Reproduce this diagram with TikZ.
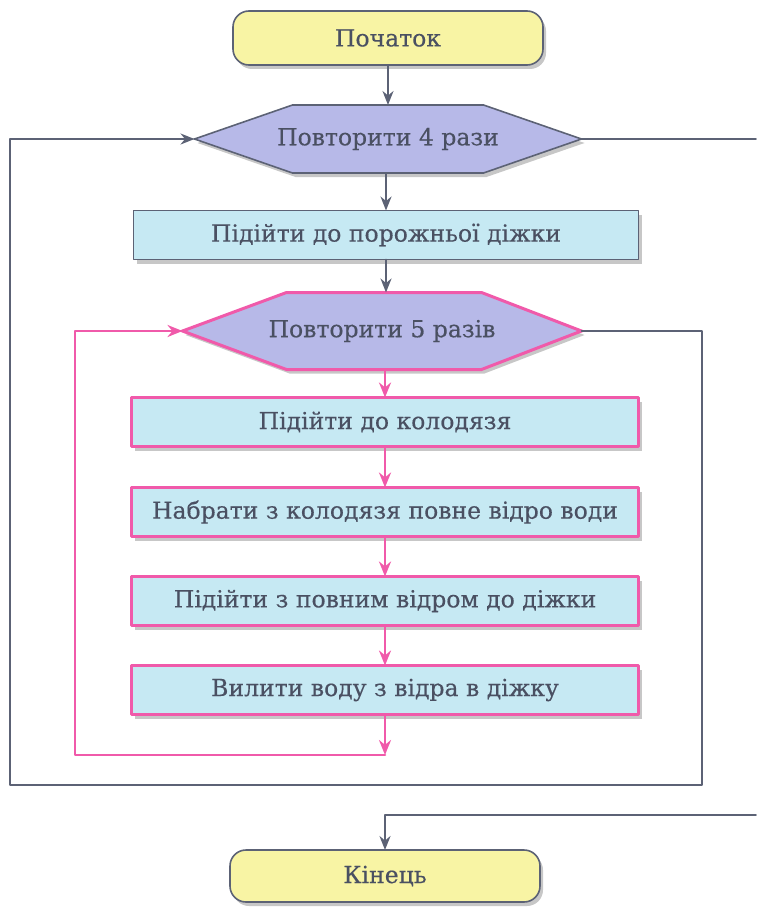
\documentclass[tikz,border=0pt]{standalone}
\usepackage{fontspec}
\setmainfont[FakeBold=0.4]{DejaVu Serif}
\usetikzlibrary{arrows.meta,shadows,backgrounds}

\definecolor{txtgray}{RGB}{74,80,98}
\definecolor{linegray}{RGB}{92,98,117}
\definecolor{loopink}{RGB}{240,90,170}
\definecolor{termyellow}{RGB}{248,244,164}
\definecolor{hexblue}{RGB}{183,185,232}
\definecolor{boxcyan}{RGB}{198,233,243}

\tikzset{
  softshadow/.style={drop shadow={shadow xshift=3pt,shadow yshift=-4pt,opacity=0.22,fill=black}},
  term/.style={draw=linegray,line width=1.6pt,fill=termyellow,rounded corners=16pt,
    minimum width=310pt,minimum height=54pt,softshadow,outer sep=0pt},
  hexlbl/.style={minimum height=68pt,outer sep=0pt,inner sep=0pt},
  hexgray/.style={draw=linegray,line width=1.6pt,fill=hexblue,softshadow},
  hexpink/.style={draw=loopink,line width=3pt,fill=hexblue,softshadow},
  actgray/.style={draw=linegray,line width=1.6pt,fill=boxcyan,minimum width=505pt,
    minimum height=49pt,softshadow,outer sep=0pt},
  actpink/.style={draw=loopink,line width=3pt,fill=boxcyan,minimum width=507pt,
    minimum height=49pt,softshadow,outer sep=0pt},
  grayline/.style={draw=linegray,line width=1.8pt},
  pinkline/.style={draw=loopink,line width=2.6pt},
  grayarr/.style={grayline,-{Stealth[length=14pt,width=11pt]}},
  pinkarr/.style={pinkline,-{Stealth[length=15pt,width=12pt]}}
}

\begin{document}
\begin{tikzpicture}[x=1pt,y=-1pt,font=\fontsize{23.5}{28}\selectfont,text=txtgray,
    line cap=round,line join=round]
  \useasboundingbox (0,0) rectangle (756,907);

  \node[term] (start) at (388,38) {Початок};

  \node[hexlbl,minimum width=387pt] (rep4) at (388,139) {Повторити 4 рази};
  \node[actgray] (tub) at (386,235) {Підійти до порожньої діжки};
  \node[hexlbl,minimum width=399pt,minimum height=77pt] (rep5) at (382,331) {Повторити 5 разів};

  \node[actpink] (well) at (385,422) {Підійти до колодязя};
  \node[actpink] (fill) at (385,512) {Набрати з колодязя повне відро води};
  \node[actpink] (carry) at (385,601) {Підійти з повним відром до діжки};
  \node[actpink] (pour) at (385,690) {Вилити воду з відра в діжку};

  \node[term,minimum height=52pt] (stop) at (385,876) {Кінець};

  \begin{scope}[on background layer]
    \draw[hexgray] (rep4.west) -- ([xshift=98pt]rep4.north west) -- ([xshift=-98pt]rep4.north east)
      -- (rep4.east) -- ([xshift=-98pt]rep4.south east) -- ([xshift=98pt]rep4.south west) -- cycle;
    \draw[hexpink] (rep5.west) -- ([xshift=104pt]rep5.north west) -- ([xshift=-100pt]rep5.north east)
      -- (rep5.east) -- ([xshift=-100pt]rep5.south east) -- ([xshift=104pt]rep5.south west) -- cycle;
  \end{scope}

  % main line
  \draw[grayarr] (start.south) -- (start.south |- rep4.north);
  \draw[grayarr] (tub.north |- rep4.south) -- (tub.north);
  \draw[grayarr] (tub.south) -- (tub.south |- rep5.north);
  \draw[pinkarr] (well.north |- rep5.south) -- (well.north);
  \draw[pinkarr] (well) -- (fill);
  \draw[pinkarr] (fill) -- (carry);
  \draw[pinkarr] (carry) -- (pour);

  % inner loop
  \coordinate (inback) at (385,755);
  \draw[pinkarr] (pour) -- (inback);
  \draw[pinkarr] (inback) -- (75,755) -- (75,331) -- (rep5.west);

  % outer loop
  \draw[grayarr] (rep5.east) -- (702,331) -- (702,785) -- (10,785) -- (10,139) -- (rep4.west);

  % exit
  \coordinate (outR) at (756,139);
  \coordinate (backR) at (756,815);
  \draw[grayline] (rep4.east) -- (outR);
  \draw[grayarr] (backR) -- (385,815) -- (stop);
\end{tikzpicture}
\end{document}
